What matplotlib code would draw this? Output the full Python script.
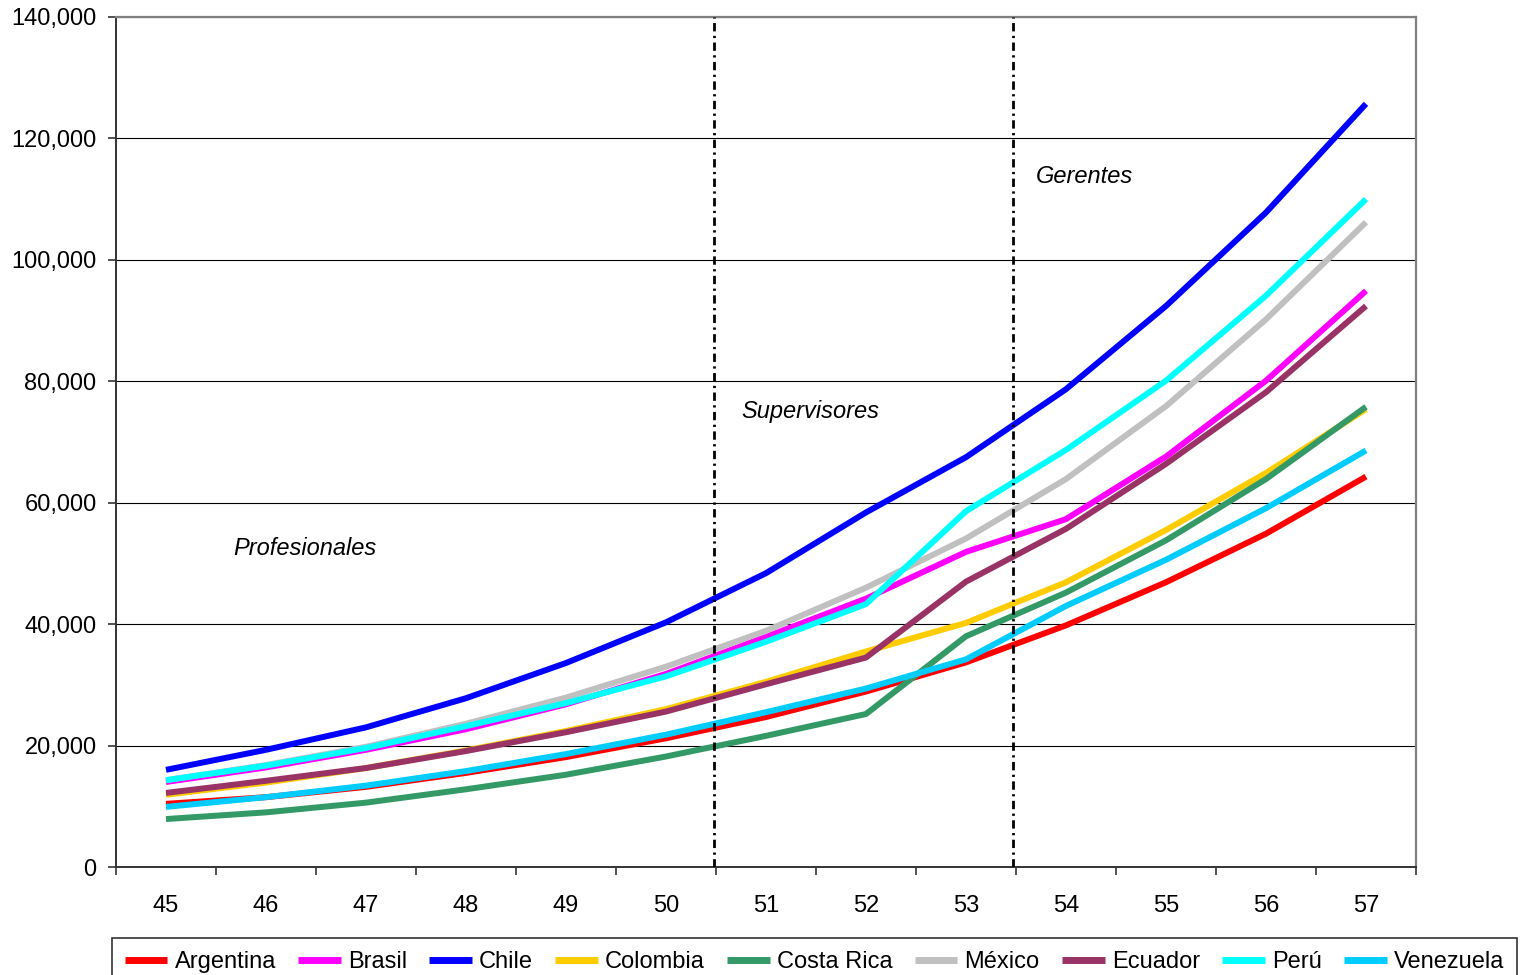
import matplotlib
matplotlib.use("Agg")
import matplotlib.pyplot as plt
from matplotlib.ticker import FuncFormatter, FixedLocator

plt.rcParams['font.family'] = ['Liberation Sans', 'DejaVu Sans']

years = [45, 46, 47, 48, 49, 50, 51, 52, 53, 54, 55, 56, 57]

argentina = [10400, 11500, 13200, 15500, 18100, 21200, 24700, 28900, 33700, 39800, 46900, 54900, 64300]
brasil = [14000, 16400, 19300, 22700, 26800, 31800, 37900, 44200, 51900, 57300, 67600, 80100, 94900]
chile = [16000, 19300, 23000, 27800, 33600, 40300, 48400, 58400, 67500, 78700, 92400, 107800, 125700]
colombia = [11900, 13900, 16300, 19200, 22400, 26000, 30500, 35500, 40200, 46900, 55500, 64900, 75400]
costa_rica = [7900, 9000, 10600, 12800, 15200, 18200, 21600, 25200, 38000, 45200, 53800, 63900, 75800]
mexico = [14300, 16800, 19800, 23600, 27900, 33000, 38900, 46000, 54100, 63900, 75900, 90200, 106200]
ecuador = [12200, 14200, 16300, 19100, 22200, 25600, 30100, 34500, 47000, 55700, 66400, 78200, 92400]
peru = [14300, 16700, 19600, 23200, 27000, 31400, 37100, 43300, 58600, 68700, 80100, 94100, 110000]
venezuela = [9900, 11500, 13400, 15800, 18600, 21800, 25500, 29400, 34200, 43000, 50600, 59100, 68600]

series = [
    ("Argentina", argentina, "#FF0000"),
    ("Brasil", brasil, "#FF00FF"),
    ("Chile", chile, "#0000FF"),
    ("Colombia", colombia, "#FFCC00"),
    ("Costa Rica", costa_rica, "#339966"),
    ("México", mexico, "#C0C0C0"),
    ("Ecuador", ecuador, "#993366"),
    ("Perú", peru, "#00FFFF"),
    ("Venezuela", venezuela, "#00CCFF"),
]

# level labels and the boundaries between them
levels = [("Profesionales", 45.67, 52500), ("Supervisores", 50.75, 75100), ("Gerentes", 53.70, 113800)]
boundaries = [50.48, 53.47]

fig = plt.figure(figsize=(15.2, 9.75), dpi=100)
ax = fig.add_axes([116 / 1520, 1 - 867 / 975, 1300 / 1520, 850 / 975])

for label, values, color in series:
    ax.plot(years, values, color=color, linewidth=4.3, label=label, solid_capstyle='butt')

for xb in boundaries:
    ax.axvline(xb, color='black', linewidth=2.0, linestyle=(0, (3, 1.6, 0.8, 1.6)), zorder=5)

for text, x, y in levels:
    ax.text(x, y, text, fontsize=17, style='italic', ha='left', va='center')

ax.set_xlim(44.5, 57.5)
ax.set_ylim(0, 140000)

# category axis: ticks on boundaries, labels centred
ax.xaxis.set_major_locator(FixedLocator([y - 0.5 for y in years] + [years[-1] + 0.5]))
ax.xaxis.set_major_formatter(FuncFormatter(lambda v, p: ""))
ax.xaxis.set_minor_locator(FixedLocator(years))
ax.xaxis.set_minor_formatter(FuncFormatter(lambda v, p: f"{int(round(v))}"))
ax.tick_params(axis='x', which='major', direction='out', length=6, width=1.2, color='#333333')
ax.tick_params(axis='x', which='minor', length=0, pad=20, labelsize=17)

ax.set_yticks(range(0, 140001, 20000))
ax.yaxis.set_major_formatter(FuncFormatter(lambda v, p: f"{int(v):,}"))
ax.tick_params(axis='y', direction='out', length=6, width=1.2, color='#333333', pad=8, labelsize=17)

ax.grid(axis='y', color='black', linewidth=0.8)
ax.set_axisbelow(True)

for side in ['left', 'bottom']:
    ax.spines[side].set_color('#333333')
    ax.spines[side].set_linewidth(1.4)
for side in ['top', 'right']:
    ax.spines[side].set_color('#808080')
    ax.spines[side].set_linewidth(1.6)

leg = fig.legend(loc='upper left', bbox_to_anchor=(112 / 1520, 1 - 938 / 975, 1405 / 1520, 0),
                 mode='expand', ncol=9, fontsize=17, frameon=True, fancybox=False,
                 edgecolor='black', handlelength=1.8, handletextpad=0.3,
                 columnspacing=0.6, borderpad=0.55, borderaxespad=0)
leg.get_frame().set_linewidth(1.2)
for h in leg.get_lines():
    h.set_linewidth(5)

fig.savefig("out.png", dpi=100)
